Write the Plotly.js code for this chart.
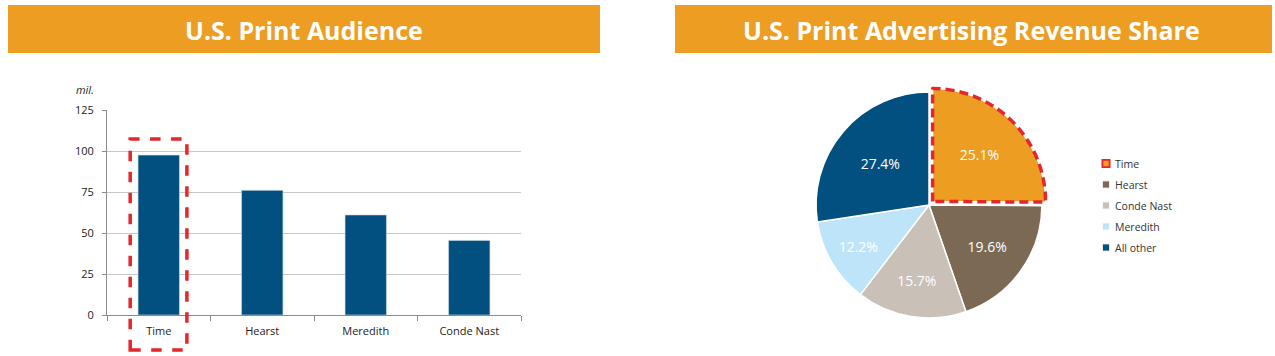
<!DOCTYPE html>
<html>
<head>
<meta charset="utf-8">
<script src="https://cdn.plot.ly/plotly-3.0.1.min.js"></script>
<style>
  html, body { margin: 0; padding: 0; background: #fff; }
  #chart { width: 1275px; height: 356px; }
</style>
</head>
<body>
<div id="chart"></div>
<script>
// ---- Data ----
const barCategories = ["Time", "Hearst", "Meredith", "Conde Nast"];
const barValues = [97.5, 76, 61, 45.5];
const yTickValues = [0, 25, 50, 75, 100, 125];

const pieLabels = ["Time", "Hearst", "Conde Nast", "Meredith", "All other"];
const pieValues = [25.1, 19.6, 15.7, 12.2, 27.4];
const pieColors = ["#EC9D22", "#7B6954", "#C9C0B7", "#BDE4F8", "#02507F"];

const leftTitle = "U.S. Print Audience";
const rightTitle = "U.S. Print Advertising Revenue Share";
const unitLabel = "mil.";

// ---- Layout helpers ----
const W = 1275, H = 356;
const px = x => x / W;
const py = y => (H - y) / H;

const FONT = "Open Sans, Noto Sans, sans-serif";
const orange = "#EC9D22";
const navy = "#02507F";

const barTrace = {
  type: "bar",
  x: barCategories,
  y: barValues,
  width: 0.4,
  marker: { color: navy, line: { color: "#D0DCE6", width: 0.6 } },
  hoverinfo: "x+y",
  showlegend: false,
  xaxis: "x", yaxis: "y"
};

const pieTrace = {
  type: "pie",
  labels: pieLabels,
  values: pieValues,
  sort: false,
  direction: "clockwise",
  rotation: 0,
  pull: [0.045, 0, 0, 0, 0],
  marker: { colors: pieColors, line: { color: "#ffffff", width: 1.5 } },
  texttemplate: "%{value:.1f}%",
  textposition: "inside",
  insidetextorientation: "horizontal",
  textfont: { color: "#ffffff", size: 14, family: FONT },
  hoverinfo: "label+percent",
  domain: { x: [px(811), px(1047)], y: [py(323), py(87)] },
  showlegend: true
};

const layout = {
  width: W, height: H,
  margin: { l: 0, r: 0, t: 0, b: 0 },
  paper_bgcolor: "#ffffff",
  plot_bgcolor: "#ffffff",
  font: { family: FONT, color: "#333333", size: 11 },
  xaxis: {
    domain: [px(107), px(521)],
    anchor: "y",
    type: "category",
    showline: true, linecolor: "#8C8C8C", linewidth: 1,
    ticks: "outside", tickson: "boundaries", ticklen: 5, tickcolor: "#8C8C8C",
    ticklabelstandoff: 6,
    tickfont: { size: 11, color: "#222" },
    showgrid: false, fixedrange: true
  },
  yaxis: {
    domain: [py(315), py(110)],
    anchor: "x",
    range: [0, 125],
    tickvals: yTickValues,
    showline: true, linecolor: "#8C8C8C", linewidth: 1,
    ticks: "outside", ticklen: 4, tickcolor: "#8C8C8C",
    ticklabelstandoff: 6,
    showgrid: true, gridcolor: "#C8C8C8", gridwidth: 1,
    zeroline: false,
    tickfont: { size: 11, color: "#222" },
    fixedrange: true
  },
  legend: {
    x: px(1075), y: py(149), xanchor: "left", yanchor: "top",
    font: { size: 10.5, color: "#333", family: FONT },
    bgcolor: "rgba(0,0,0,0)",
    itemclick: false, itemdoubleclick: false
  },
  shapes: [
    { type: "rect", xref: "paper", yref: "paper", x0: px(8), x1: px(600), y0: py(53), y1: py(5),
      fillcolor: orange, line: { width: 0 }, layer: "below" },
    { type: "rect", xref: "paper", yref: "paper", x0: px(675), x1: px(1272), y0: py(53), y1: py(5),
      fillcolor: orange, line: { width: 0 }, layer: "below" },
    { type: "rect", xref: "x domain", yref: "y domain", x0: 0.056, x1: 0.193, y0: -0.171, y1: 0.858,
      fillcolor: "rgba(0,0,0,0)", line: { color: "#E4262D", width: 3.5, dash: "dash" }, layer: "above" }
  ],
  annotations: [
    { text: "<b>" + leftTitle + "</b>", xref: "paper", yref: "paper", x: px(304), y: py(30),
      xanchor: "center", yanchor: "middle",
      showarrow: false, font: { size: 25, color: "#ffffff", family: FONT } },
    { text: "<b>" + rightTitle + "</b>", xref: "paper", yref: "paper", x: px(971), y: py(30),
      xanchor: "center", yanchor: "middle",
      showarrow: false, font: { size: 25, color: "#ffffff", family: FONT } },
    { text: "<i>" + unitLabel + "</i>", xref: "paper", yref: "paper", x: px(85), y: py(90),
      xanchor: "center", yanchor: "middle",
      showarrow: false, font: { size: 11, color: "#222", family: FONT } }
  ]
};

Plotly.newPlot("chart", [barTrace, pieTrace], layout, { displayModeBar: false, staticPlot: true }).then(gd => {
  // dashed red outline around the "Time" slice, reusing the slice geometry from Plotly
  const slices = gd.querySelectorAll(".pielayer .slice");
  if (slices.length) {
    const surf = slices[0].querySelector("path.surface");
    if (surf) {
      const c = surf.cloneNode(false);
      c.setAttribute("class", "highlight");
      c.setAttribute("style", "fill:none;stroke:#E4262D;stroke-width:3.5px;stroke-dasharray:9,5;");
      slices[0].appendChild(c);
    }
  }
  // legend: smaller swatches placed close to the text, slightly wider row spacing
  const items = gd.querySelectorAll(".legend .traces");
  if (items.length) {
    const m0 = /translate\(([-\d.]+)[ ,]+([-\d.]+)\)/.exec(items[0].getAttribute("transform") || "");
    const base = m0 ? parseFloat(m0[2]) : 0;
    items.forEach((it, i) => {
      const m = /translate\(([-\d.]+)[ ,]+([-\d.]+)\)/.exec(it.getAttribute("transform") || "");
      const tx = m ? parseFloat(m[1]) : 0;
      it.setAttribute("transform", "translate(" + tx + "," + (base + i * 21) + ")");
      const pt = it.querySelector(".legendpoints path");
      if (pt) {
        pt.setAttribute("transform", "translate(31,0) scale(0.6)");
        if (i === 0) { pt.style.stroke = "#E4262D"; pt.style.strokeWidth = "3px"; }
      }
    });
  }
});
</script>
</body>
</html>
